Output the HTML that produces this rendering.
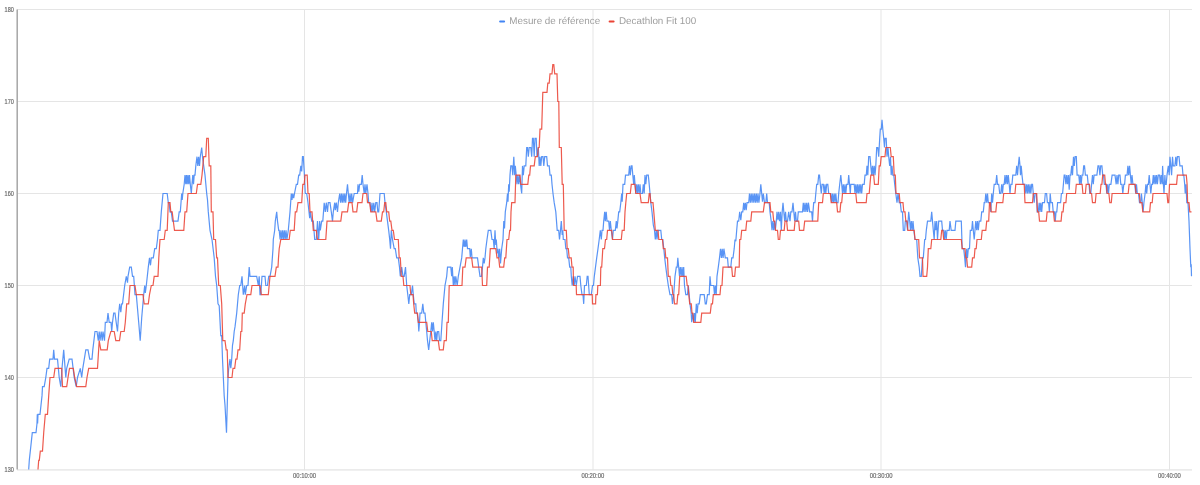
<!DOCTYPE html>
<html lang="fr"><head><meta charset="utf-8"><title>Mesure de référence / Decathlon Fit 100</title>
<style>
html,body{margin:0;padding:0;background:#fff}
svg{display:block}
.g line{stroke:#e5e5e5;stroke-width:1}
.ax{stroke:#a6a6a6;stroke-width:1.5}
.lab text{stroke:#777;stroke-width:0.22;font-family:"Liberation Sans",Arial,sans-serif;font-size:6px;fill:#6c6c6c}
.leg text{text-rendering:geometricPrecision;font-family:"Liberation Sans",Arial,sans-serif;font-size:9.85px;fill:#9e9e9e}
polyline{fill:none;stroke-width:1.2;stroke-opacity:0.88;stroke-linejoin:miter;stroke-miterlimit:2;stroke-linecap:butt}
</style></head><body>
<svg width="1200" height="485" viewBox="0 0 1200 485">
<defs><filter id="tb" x="-2%" y="-2%" width="104%" height="104%"><feGaussianBlur stdDeviation="0.28"/></filter></defs>
<rect width="1200" height="485" fill="#fff"/>
<g class="g"><line x1="17" x2="1192" y1="9.5" y2="9.5"/><line x1="17" x2="1192" y1="101.5" y2="101.5"/><line x1="17" x2="1192" y1="193.5" y2="193.5"/><line x1="17" x2="1192" y1="285.5" y2="285.5"/><line x1="17" x2="1192" y1="377.5" y2="377.5"/><line x1="17" x2="1192" y1="469.95" y2="469.95" style="stroke:#ebebeb;stroke-width:1.7"/><line x1="304.5" x2="304.5" y1="9.5" y2="470.2"/><line x1="593.0" x2="593.0" y1="9.5" y2="470.2"/><line x1="881.0" x2="881.0" y1="9.5" y2="470.2"/><line x1="1169.5" x2="1169.5" y1="9.5" y2="470.2"/></g>
<line class="ax" x1="17.2" x2="17.2" y1="9.5" y2="469.5"/>
<polyline stroke="#4285f4" points="28.7,469.5 29.3,460.3 30.3,451.1 31.3,441.9 32.3,432.7 36.0,432.7 37.0,423.5 37.3,414.3 37.6,423.5 38.0,414.3 40.0,414.3 41.0,405.1 42.0,395.9 42.5,386.7 44.2,386.7 45.8,377.5 47.0,368.3 48.7,368.3 49.7,359.1 53.0,359.1 53.7,349.9 54.5,359.1 57.5,359.1 59.2,377.5 60.8,386.7 62.0,368.3 63.7,349.9 65.8,377.5 66.7,368.3 69.2,359.1 72.0,359.1 74.2,377.5 76.2,386.7 77.5,377.5 80.3,368.3 81.7,377.5 82.8,368.3 85.8,349.9 88.0,349.9 89.7,359.1 92.0,359.1 92.8,349.9 95.0,331.5 97.0,331.5 98.3,340.7 99.2,331.5 100.0,340.7 101.2,331.5 102.2,340.7 103.0,331.5 104.5,340.7 105.3,322.3 107.0,322.3 108.0,313.1 109.2,322.3 111.0,322.3 111.7,331.5 112.5,322.3 113.7,313.1 115.0,313.1 116.2,322.3 117.5,331.5 118.7,313.1 119.7,303.9 120.8,312.2 121.7,303.9 122.5,303.9 124.7,285.5 126.3,276.3 127.5,282.7 128.0,276.3 129.7,267.1 131.3,267.1 132.5,276.3 133.7,276.3 135.0,294.7 136.3,294.7 138.7,322.3 140.2,340.7 141.7,317.7 143.7,294.7 144.7,285.5 145.3,292.9 146.3,285.5 148.3,267.1 149.5,257.9 150.5,265.3 151.3,257.9 153.3,257.9 154.7,248.7 156.3,248.7 157.5,239.5 158.3,230.3 160.0,230.3 161.3,211.9 163.0,193.5 167.2,193.5 168.3,202.7 169.2,202.7 170.0,211.9 171.3,211.9 172.5,221.1 178.0,221.1 179.2,211.9 180.3,211.9 181.7,193.5 182.2,199.9 182.8,193.5 184.2,184.3 185.0,175.1 185.8,184.3 186.5,175.1 187.2,184.3 188.0,175.1 188.8,184.3 189.5,175.1 190.3,184.3 191.3,193.5 192.0,184.3 192.8,175.1 193.5,184.3 194.2,175.1 195.0,175.1 195.8,165.9 197.0,156.7 197.8,165.9 198.7,156.7 199.5,165.9 200.3,156.7 201.7,147.5 202.5,156.7 203.7,165.9 205.0,175.1 206.7,193.5 207.5,199.9 208.3,211.9 210.0,230.3 212.0,239.5 214.2,257.9 215.5,276.3 216.7,285.5 218.0,303.9 219.2,305.7 220.8,336.1 221.7,335.2 222.5,359.1 224.2,395.9 225.0,405.1 226.5,432.7 228.0,377.5 228.7,368.3 230.0,359.1 230.8,368.3 231.7,359.1 232.5,345.3 233.3,340.7 234.2,331.5 235.0,326.9 236.7,313.1 238.3,294.7 239.7,285.5 240.8,285.5 242.0,276.3 243.3,294.7 244.7,285.5 245.3,294.7 246.7,285.5 248.0,285.5 249.2,267.1 250.0,276.3 256.7,276.3 258.3,285.5 259.2,276.3 260.0,294.7 260.8,294.7 262.0,276.3 265.0,276.3 265.8,285.5 267.5,285.5 268.7,276.3 270.0,276.3 271.7,267.1 273.0,248.7 273.3,239.5 274.7,230.3 275.3,221.1 276.7,211.9 277.5,221.1 278.7,230.3 279.2,230.3 280.1,239.5 280.9,230.3 281.8,239.5 282.6,230.3 283.5,239.5 284.3,230.3 285.2,239.5 286.0,230.3 286.9,239.5 288.3,230.3 290.0,211.9 291.3,193.5 292.0,199.9 292.8,193.5 293.7,198.1 294.5,193.5 296.3,184.3 297.5,184.3 298.7,175.1 299.7,175.1 300.8,165.9 301.7,171.4 302.5,156.7 303.3,156.7 304.2,171.4 305.3,193.5 306.7,193.5 308.0,202.7 309.7,218.3 310.3,211.9 311.7,221.1 313.3,221.1 314.7,239.5 316.3,239.5 317.5,221.1 318.7,239.5 319.7,221.1 320.3,230.3 321.7,221.1 322.8,221.1 324.2,202.7 325.3,211.9 326.3,202.7 327.5,211.9 328.3,202.7 330.0,202.7 331.3,211.9 332.5,221.1 333.3,211.9 334.7,202.7 335.3,210.1 336.3,202.7 337.5,211.9 338.3,202.7 339.7,193.5 339.7,193.5 340.6,202.7 341.4,193.5 342.3,202.7 343.1,193.5 344.0,202.7 344.8,193.5 345.7,202.7 346.5,193.5 347.5,184.3 348.3,193.5 348.3,193.5 349.2,202.7 350.0,193.5 350.9,202.7 351.7,193.5 352.6,202.7 354.2,193.5 357.5,193.5 358.0,184.3 358.8,191.7 359.7,184.3 361.3,184.3 362.2,175.1 363.0,184.3 364.2,193.5 365.0,184.3 365.8,193.5 367.0,184.3 368.0,193.5 368.7,202.7 370.0,202.7 371.2,211.9 372.0,202.7 372.8,211.9 373.8,202.7 374.7,211.9 375.8,202.7 377.0,202.7 377.8,211.9 378.7,211.9 380.0,193.5 384.2,193.5 385.0,202.7 386.3,211.9 387.5,221.1 388.7,230.3 389.7,239.5 390.5,248.7 391.3,230.3 392.5,239.5 394.2,248.7 395.3,248.7 396.7,257.9 398.3,257.9 399.5,267.1 400.3,276.3 401.7,267.1 403.0,276.3 404.2,276.3 405.5,267.1 406.7,285.5 407.8,294.7 408.8,303.9 409.7,294.7 411.3,294.7 412.5,285.5 413.3,294.7 414.2,303.9 415.8,303.9 416.3,313.1 417.2,313.1 418.3,322.3 418.8,331.5 419.5,322.3 420.0,313.1 421.7,313.1 422.8,303.9 423.8,313.1 425.0,313.1 425.8,322.3 426.7,331.5 427.5,340.7 428.7,349.9 429.7,340.7 430.8,331.5 431.7,322.3 432.5,331.5 433.3,322.3 434.2,331.5 435.0,340.7 435.8,331.5 436.7,340.7 437.5,331.5 438.7,331.5 439.5,340.7 440.8,340.7 442.0,322.3 443.3,303.9 445.0,285.5 446.7,276.3 447.5,267.1 450.8,267.1 451.7,276.3 452.3,267.1 453.3,285.5 454.2,276.3 455.0,285.5 455.8,276.3 457.2,285.5 458.3,276.3 460.0,267.1 461.7,257.9 463.3,239.5 464.2,246.9 465.0,239.5 465.8,246.9 466.7,239.5 467.5,248.7 469.7,248.7 470.3,257.0 471.3,248.7 472.0,257.9 477.5,257.9 478.7,267.1 480.0,276.3 481.5,276.3 482.5,267.1 483.3,257.9 484.2,263.4 485.0,257.9 485.8,248.7 487.0,239.5 488.3,230.3 490.8,230.3 492.0,239.5 493.3,239.5 494.2,248.7 495.0,230.3 495.8,245.0 496.3,239.5 497.2,253.3 498.0,248.7 498.7,257.9 499.7,248.7 500.5,263.4 501.7,248.7 503.0,239.5 503.8,221.1 504.5,228.5 505.3,211.9 506.7,202.7 507.5,193.5 508.0,201.8 508.7,184.3 509.2,191.7 510.0,175.1 510.8,165.9 512.0,165.9 512.8,175.1 513.8,156.7 514.7,175.1 515.3,165.9 516.2,175.1 517.0,184.3 517.8,175.1 518.7,184.3 519.5,175.1 520.5,184.3 521.7,193.5 522.5,165.9 523.3,175.1 524.2,165.9 525.8,165.9 526.7,147.5 527.5,147.5 528.3,156.7 529.2,147.5 530.8,147.5 531.7,156.7 532.5,138.3 533.3,138.3 534.2,156.7 535.0,138.3 536.2,138.3 537.0,156.7 538.3,147.5 539.2,165.9 540.0,156.7 540.8,165.9 541.7,156.7 543.0,156.7 543.8,165.9 544.7,156.7 546.7,156.7 547.5,165.9 549.2,165.9 550.0,175.1 551.3,175.1 552.0,184.3 553.0,193.5 554.2,202.7 555.8,211.9 557.2,230.3 558.7,230.3 559.5,239.5 560.5,230.3 561.3,221.1 562.2,234.9 562.8,230.3 563.3,239.5 565.0,239.5 565.8,248.7 566.7,248.7 567.5,257.9 568.7,257.9 569.7,267.1 570.8,267.1 571.3,276.3 572.2,285.5 573.3,276.3 574.2,285.5 575.0,276.3 576.3,285.5 577.5,276.3 580.0,276.3 580.8,285.5 582.0,294.7 583.0,294.7 583.7,303.9 584.5,285.5 586.3,285.5 587.2,276.3 588.0,276.3 589.3,294.7 591.3,294.7 592.5,285.5 593.5,285.5 594.3,276.3 595.5,267.1 596.7,257.9 598.0,248.7 599.2,239.5 600.3,230.3 601.3,239.5 602.0,230.3 603.0,230.3 603.7,221.1 604.7,211.9 605.3,221.1 606.2,211.9 607.0,221.1 608.7,221.1 609.5,230.3 610.3,221.1 611.3,230.3 612.5,239.5 613.3,230.3 615.3,230.3 616.3,221.1 617.0,228.5 617.8,221.1 618.7,211.9 619.7,211.9 620.8,202.7 621.7,193.5 622.2,201.8 623.0,184.3 624.7,184.3 625.5,175.1 628.7,175.1 629.5,165.9 630.3,175.1 631.2,165.9 632.0,165.9 632.8,175.1 633.7,184.3 634.3,175.1 635.0,184.3 635.8,193.5 636.7,184.3 637.5,193.5 638.3,184.3 639.2,193.5 640.0,184.3 640.8,193.5 642.5,193.5 643.3,184.3 644.2,193.5 645.0,175.1 645.8,184.3 646.7,175.1 648.3,175.1 649.2,184.3 650.0,193.5 650.8,202.7 652.0,211.9 653.3,224.8 654.5,230.3 655.3,239.5 656.3,230.3 657.0,239.5 658.0,230.3 660.8,230.3 661.7,239.5 662.8,239.5 663.8,248.7 664.7,257.9 665.8,267.1 667.0,276.3 668.3,285.5 670.0,294.7 671.7,294.7 672.5,303.9 673.7,294.7 675.0,276.3 676.3,267.1 677.2,267.1 677.8,257.9 678.7,267.1 679.5,276.3 680.3,267.1 681.2,276.3 682.0,267.1 682.8,276.3 683.7,267.1 684.5,285.5 685.8,294.7 687.5,294.7 688.3,285.5 689.2,294.7 690.0,303.9 691.2,313.1 691.7,322.3 692.8,313.1 693.7,322.3 694.5,313.1 695.3,322.3 696.3,303.9 697.2,313.1 698.0,303.9 699.2,303.9 700.3,294.7 704.2,294.7 705.3,303.9 706.3,303.9 707.5,294.7 709.2,294.7 710.0,276.3 710.8,285.5 713.7,285.5 714.5,294.7 715.3,285.5 716.2,294.7 717.0,276.3 718.3,267.1 719.5,257.9 720.5,248.7 720.5,248.7 721.4,257.9 722.2,248.7 723.1,257.9 723.9,248.7 725.3,257.9 727.5,257.9 728.3,267.1 730.8,267.1 731.7,257.9 733.0,257.9 734.2,248.7 735.0,239.5 735.8,241.3 736.7,230.3 737.5,221.1 738.7,221.1 739.7,211.9 740.8,220.2 741.7,211.9 742.8,211.9 743.7,202.7 744.5,210.1 745.3,202.7 746.2,210.1 747.0,202.7 748.7,202.7 749.5,193.5 749.5,193.5 750.4,202.7 751.2,193.5 752.1,202.7 752.9,193.5 753.8,202.7 754.6,193.5 755.5,202.7 756.3,193.5 757.2,202.7 758.0,193.5 758.9,202.7 760.0,193.5 760.8,184.3 761.7,193.5 762.5,201.8 763.3,193.5 764.5,202.7 765.8,202.7 766.7,193.5 767.5,202.7 769.2,202.7 770.0,211.9 771.2,221.1 772.0,230.3 772.8,221.1 773.7,230.3 774.5,221.1 775.3,230.3 776.3,221.1 777.0,211.9 778.0,220.2 778.7,211.9 779.7,221.1 780.5,211.9 781.3,230.3 782.2,211.9 783.0,202.7 783.8,211.9 784.7,221.1 785.5,211.9 786.3,221.1 787.5,221.1 788.7,211.9 790.0,221.1 790.8,211.9 792.0,211.9 793.0,202.7 793.8,211.9 794.7,221.1 795.5,211.9 796.3,221.1 797.5,221.1 798.3,211.9 802.5,211.9 803.3,202.7 803.3,202.7 804.1,211.9 805.0,202.7 805.9,211.9 806.7,202.7 807.6,211.9 808.4,202.7 809.7,211.9 811.7,211.9 812.5,221.1 813.0,211.9 813.7,202.7 815.0,202.7 815.8,193.5 816.7,184.3 817.8,184.3 818.7,175.1 819.5,175.1 820.3,184.3 821.3,193.5 822.0,184.3 823.3,184.3 824.2,193.5 825.0,184.3 825.8,193.5 826.7,184.3 827.8,184.3 828.7,193.5 830.8,193.5 831.7,202.7 832.5,193.5 833.3,202.7 834.2,193.5 835.0,202.7 835.8,193.5 836.7,202.7 838.0,202.7 838.7,193.5 839.7,184.3 840.8,175.1 841.7,184.3 842.5,193.5 843.3,184.3 844.2,193.5 845.0,184.3 845.8,193.5 846.7,184.3 848.0,184.3 848.7,175.1 849.5,184.3 850.3,193.5 850.8,184.3 854.2,184.3 855.0,193.5 855.8,184.3 856.7,193.5 857.5,184.3 858.3,193.5 859.2,184.3 860.0,193.5 860.8,184.3 861.7,193.5 862.5,184.3 864.2,184.3 865.0,175.1 866.3,175.1 867.0,165.9 867.8,175.1 868.7,156.7 870.0,156.7 870.8,165.9 871.7,175.1 872.5,165.9 873.3,175.1 874.2,165.9 875.0,175.1 875.8,165.9 876.7,147.5 877.8,147.5 878.7,156.7 879.7,138.3 880.3,129.1 881.3,129.1 882.0,119.9 882.8,129.1 883.7,138.3 884.5,147.5 885.0,138.3 886.2,138.3 887.0,156.7 888.0,147.5 888.7,156.7 889.7,165.9 890.5,156.7 891.2,175.1 892.0,165.9 892.8,175.1 893.8,175.1 894.7,184.3 895.8,193.5 897.0,202.7 898.0,193.5 899.2,202.7 900.3,202.7 901.3,211.9 902.5,211.9 903.3,230.3 904.7,230.3 905.3,221.1 906.7,221.1 907.5,230.3 908.7,211.9 909.7,221.1 910.5,230.3 911.3,221.1 912.2,230.3 913.0,221.1 913.8,230.3 915.0,239.5 916.7,239.5 917.8,257.9 919.2,267.1 920.0,276.3 921.3,276.3 922.5,257.9 923.3,257.9 924.7,239.5 925.5,239.5 926.3,230.3 927.5,221.1 930.8,221.1 931.7,211.9 932.5,221.1 933.3,230.3 934.2,239.5 935.0,221.1 935.8,230.3 936.7,221.1 937.5,239.5 938.7,221.1 941.7,221.1 942.5,230.3 943.7,230.3 944.5,239.5 945.3,230.3 946.2,239.5 947.0,230.3 949.2,230.3 950.0,221.1 951.2,230.3 955.0,230.3 955.8,221.1 961.3,221.1 962.2,248.7 963.7,248.7 964.7,257.9 965.5,267.1 966.7,248.7 967.5,257.9 968.3,248.7 969.5,248.7 970.3,230.3 971.7,230.3 972.5,221.1 973.3,230.3 974.2,239.5 975.0,230.3 975.8,221.1 976.7,230.3 977.5,221.1 978.3,230.3 979.2,221.1 980.8,221.1 981.7,211.9 983.3,211.9 984.2,202.7 985.0,202.7 985.8,193.5 986.7,202.7 987.5,193.5 988.3,202.7 990.0,202.7 990.8,211.9 991.7,193.5 992.5,202.7 993.3,193.5 994.2,184.3 995.8,184.3 996.7,175.1 997.5,184.3 998.7,184.3 999.7,193.5 1000.8,193.5 1001.7,184.3 1002.5,193.5 1003.3,184.3 1004.2,184.3 1005.0,175.1 1005.8,184.3 1006.7,175.1 1007.5,184.3 1008.3,175.1 1009.2,184.3 1010.0,193.5 1010.8,184.3 1012.0,184.3 1012.8,175.1 1015.8,175.1 1016.7,165.9 1017.5,175.1 1018.3,165.9 1019.2,156.7 1020.0,165.9 1020.5,175.1 1021.2,165.9 1022.0,175.1 1023.0,184.3 1025.0,184.3 1025.8,193.5 1026.7,184.3 1027.5,193.5 1028.3,184.3 1029.2,193.5 1030.0,184.3 1030.8,193.5 1031.7,184.3 1032.5,184.3 1033.3,193.5 1034.2,202.7 1035.0,193.5 1036.3,193.5 1037.2,211.9 1038.3,211.9 1039.2,202.7 1040.0,211.9 1040.8,202.7 1041.7,211.9 1042.5,202.7 1043.3,202.7 1044.5,202.7 1045.3,193.5 1046.6,193.5 1047.4,202.7 1048.6,202.7 1049.4,211.9 1050.2,193.5 1051.0,202.7 1052.4,202.7 1053.2,211.9 1054.5,211.9 1055.3,221.1 1056.0,211.9 1056.8,211.9 1057.6,202.7 1060.6,202.7 1061.4,193.5 1062.6,193.5 1063.4,184.3 1064.2,175.1 1065.0,175.1 1065.9,184.3 1066.7,175.1 1067.5,184.3 1068.4,175.1 1069.2,189.8 1070.0,175.1 1070.8,175.1 1071.7,165.9 1072.5,175.1 1073.5,156.7 1074.3,165.9 1075.1,156.7 1076.3,156.7 1077.1,175.1 1078.8,175.1 1079.6,184.3 1080.4,175.1 1081.2,184.3 1082.0,175.1 1082.9,175.1 1083.7,165.9 1084.5,165.9 1085.4,175.1 1087.3,175.1 1088.2,184.3 1089.0,184.3 1089.8,193.5 1090.8,193.5 1091.6,184.3 1092.5,175.1 1093.3,184.3 1094.1,175.1 1096.9,175.1 1098.0,165.9 1099.0,165.9 1099.9,175.1 1100.7,165.9 1101.9,165.9 1102.7,175.1 1103.5,175.1 1104.3,184.3 1106.0,184.3 1106.8,193.5 1107.6,184.3 1108.5,193.5 1109.3,184.3 1110.9,184.3 1112.1,175.1 1115.0,175.1 1116.2,184.3 1117.0,175.1 1117.9,184.3 1118.7,175.1 1120.0,175.1 1120.8,184.3 1122.0,184.3 1122.8,193.5 1123.8,184.3 1124.6,184.3 1125.4,175.1 1127.1,175.1 1127.9,165.9 1128.7,175.1 1129.6,165.9 1130.4,175.1 1131.2,184.3 1132.0,175.1 1132.9,184.3 1134.8,184.3 1135.7,193.5 1136.5,184.3 1137.3,193.5 1138.5,193.5 1139.5,202.7 1140.6,202.7 1141.4,193.5 1142.3,202.7 1143.1,211.9 1143.9,202.7 1145.1,193.5 1145.9,184.3 1146.7,193.5 1147.5,184.3 1148.4,184.3 1149.2,175.1 1150.0,184.3 1150.8,193.5 1151.7,184.3 1152.5,184.3 1153.3,175.1 1154.1,184.3 1155.0,175.1 1155.8,184.3 1156.6,175.1 1157.4,184.3 1158.3,175.1 1159.6,175.1 1160.4,184.3 1161.2,175.1 1162.1,184.3 1162.6,165.9 1163.4,184.3 1164.0,193.5 1164.9,175.1 1165.4,184.3 1166.2,184.3 1167.0,175.1 1168.3,165.9 1169.2,175.1 1170.0,156.7 1170.8,165.9 1171.6,175.1 1172.5,156.7 1173.3,165.9 1174.9,165.9 1175.8,156.7 1176.6,165.9 1177.4,156.7 1179.0,156.7 1179.9,165.9 1182.2,165.9 1183.0,175.1 1183.8,175.1 1184.7,184.3 1185.2,193.5 1186.0,184.3 1186.8,202.7 1188.0,202.7 1189.0,221.1 1190.0,248.7 1190.8,267.1 1191.2,264.3 1191.5,276.3"/>
<polyline stroke="#ea4335" points="38.0,469.5 38.7,460.3 39.3,460.3 40.3,451.1 42.5,451.1 43.7,432.7 45.3,414.3 47.5,414.3 48.7,395.9 50.0,377.5 53.7,377.5 55.0,368.3 61.7,368.3 62.5,386.7 66.7,386.7 68.0,377.5 69.5,368.3 73.3,368.3 74.7,377.5 76.7,386.7 85.8,386.7 87.0,377.5 88.7,368.3 97.5,368.3 99.2,340.7 100.8,349.9 107.2,349.9 108.3,340.7 110.8,331.5 114.2,331.5 115.8,340.7 119.5,340.7 120.8,331.5 124.2,331.5 125.3,322.3 126.7,303.9 128.7,303.9 130.0,285.5 135.0,285.5 136.3,294.7 143.0,294.7 144.2,303.9 148.3,303.9 149.5,294.7 151.3,285.5 153.0,285.5 154.2,276.3 158.0,276.3 158.8,257.9 160.0,239.5 164.2,239.5 165.3,230.3 167.2,230.3 168.3,202.7 170.0,202.7 170.8,211.9 172.2,211.9 173.3,221.1 174.5,230.3 183.8,230.3 185.0,211.9 186.7,211.9 188.0,193.5 196.3,193.5 197.5,184.3 200.8,184.3 202.0,175.1 203.7,156.7 205.8,156.7 206.7,138.3 208.3,138.3 209.2,165.9 210.8,165.9 211.3,211.9 213.0,211.9 213.7,239.5 215.5,239.5 216.7,257.9 217.5,257.9 218.7,285.5 220.3,285.5 221.7,303.9 222.8,340.7 225.0,340.7 226.2,349.9 227.2,349.9 228.0,377.5 232.0,377.5 233.0,368.3 234.7,368.3 235.8,359.1 237.0,359.1 238.0,349.9 239.7,349.9 240.8,331.5 241.8,331.5 242.3,313.1 244.2,313.1 245.3,303.9 247.0,294.7 250.8,294.7 252.0,285.5 260.0,285.5 261.3,294.7 268.3,294.7 270.0,276.3 275.0,276.3 276.3,267.1 278.0,267.1 278.5,257.9 279.2,248.7 280.8,239.5 289.2,239.5 290.3,230.3 294.2,230.3 295.3,211.9 296.7,211.9 298.0,202.7 301.7,202.7 302.8,184.3 304.2,184.3 305.0,175.1 307.2,175.1 308.0,193.5 309.2,193.5 310.0,211.9 312.0,211.9 313.3,230.3 316.3,230.3 317.5,239.5 325.8,239.5 327.0,221.1 340.8,221.1 342.0,211.9 347.5,211.9 348.7,202.7 352.0,202.7 353.0,211.9 356.7,211.9 357.8,202.7 362.0,202.7 363.0,193.5 366.7,193.5 367.5,202.7 369.7,202.7 370.8,211.9 375.8,211.9 377.0,221.1 381.3,221.1 382.5,211.9 383.7,211.9 384.7,202.7 385.8,202.7 386.7,211.9 388.7,211.9 389.7,221.1 390.8,221.1 392.0,230.3 393.3,230.3 394.5,239.5 398.3,239.5 399.2,257.9 400.3,257.9 401.3,276.3 403.0,276.3 403.8,285.5 410.0,285.5 410.8,294.7 413.0,294.7 413.7,303.9 414.7,313.1 417.5,313.1 418.3,322.3 426.7,322.3 427.8,331.5 431.3,331.5 432.2,340.7 438.3,340.7 439.5,349.9 443.3,349.9 444.2,340.7 446.3,340.7 447.0,322.3 448.3,322.3 449.2,285.5 462.0,285.5 462.8,267.1 465.0,267.1 466.2,257.9 471.7,257.9 472.8,267.1 481.7,267.1 482.5,285.5 486.7,285.5 487.5,267.1 489.2,267.1 490.3,248.7 495.8,248.7 497.0,257.9 498.7,257.9 499.7,267.1 503.7,267.1 504.7,257.9 505.8,257.9 507.0,239.5 508.7,239.5 509.7,230.3 510.5,230.3 511.0,211.9 511.7,202.7 515.0,202.7 515.8,175.1 520.0,175.1 520.8,184.3 527.8,184.3 528.8,175.1 529.7,175.1 530.5,165.9 534.2,165.9 535.3,156.7 537.5,156.7 538.3,147.5 539.2,147.5 540.0,129.1 541.7,129.1 542.8,92.3 547.0,92.3 547.8,83.1 549.2,83.1 550.0,73.9 552.0,73.9 552.8,64.7 553.8,64.7 554.7,73.9 557.0,73.9 557.8,101.5 558.8,101.5 559.3,147.5 561.3,147.5 562.2,184.3 563.3,184.3 564.2,230.3 566.3,230.3 567.2,248.7 568.3,248.7 569.2,257.9 571.2,257.9 572.0,267.1 573.2,267.1 573.5,285.5 576.2,285.5 576.5,294.7 592.2,294.7 592.5,303.9 595.6,303.9 595.9,294.7 597.4,294.7 597.8,285.5 600.4,285.5 600.8,267.1 601.7,267.1 602.8,248.7 604.5,248.7 605.5,239.5 606.7,239.5 607.5,230.3 611.7,230.3 612.5,239.5 621.3,239.5 622.2,230.3 624.2,230.3 625.0,211.9 625.8,202.7 626.7,193.5 630.3,193.5 631.3,184.3 635.0,184.3 635.8,193.5 640.0,193.5 641.2,202.7 648.3,202.7 649.2,193.5 650.0,193.5 650.8,202.7 653.0,202.7 653.8,211.9 655.3,230.3 658.0,230.3 658.8,239.5 662.5,239.5 663.3,248.7 665.0,248.7 665.8,257.9 667.5,257.9 668.3,276.3 670.0,276.3 670.8,285.5 672.0,285.5 672.8,294.7 673.7,294.7 674.5,303.9 677.0,303.9 677.8,294.7 678.7,294.7 679.7,276.3 686.2,276.3 687.2,285.5 688.0,285.5 688.8,294.7 689.7,303.9 691.3,303.9 692.0,313.1 692.8,313.1 693.7,322.3 700.8,322.3 701.7,313.1 710.3,313.1 711.3,303.9 712.5,303.9 713.3,294.7 720.0,294.7 720.8,285.5 722.0,285.5 723.0,267.1 731.7,267.1 732.5,276.3 734.7,276.3 735.5,267.1 739.2,267.1 739.7,239.5 740.8,239.5 741.7,230.3 745.8,230.3 746.7,221.1 750.8,221.1 751.7,211.9 763.3,211.9 764.5,202.7 770.0,202.7 770.8,211.9 772.8,211.9 773.7,221.1 774.7,221.1 775.5,230.3 777.5,230.3 778.3,239.5 779.7,239.5 780.5,230.3 784.2,230.3 785.0,221.1 786.7,221.1 787.5,230.3 794.2,230.3 795.0,221.1 798.7,221.1 799.5,230.3 803.7,230.3 804.7,221.1 817.8,221.1 818.7,202.7 822.5,202.7 823.3,193.5 830.3,193.5 831.2,202.7 836.7,202.7 837.5,211.9 840.0,211.9 840.8,202.7 841.7,202.7 842.5,193.5 855.8,193.5 856.7,202.7 866.2,202.7 867.0,193.5 869.2,193.5 870.0,184.3 870.8,175.1 873.7,175.1 874.5,184.3 878.3,184.3 879.2,165.9 880.3,165.9 881.2,156.7 885.0,156.7 885.8,147.5 890.3,147.5 891.2,156.7 893.3,156.7 894.2,175.1 895.3,175.1 896.0,193.5 899.2,193.5 900.0,202.7 903.0,202.7 903.8,211.9 905.0,211.9 905.8,221.1 907.0,221.1 907.8,230.3 914.2,230.3 915.0,239.5 918.7,239.5 919.5,257.9 922.5,257.9 923.0,276.3 926.7,276.3 927.5,267.1 928.3,248.7 930.8,248.7 931.7,239.5 940.8,239.5 941.7,230.3 942.8,230.3 943.7,239.5 961.3,239.5 962.2,248.7 965.0,248.7 965.8,257.9 966.7,257.9 967.5,267.1 971.7,267.1 972.5,257.9 974.2,257.9 975.0,248.7 976.2,248.7 977.0,239.5 981.3,239.5 982.2,230.3 985.8,230.3 986.7,221.1 988.7,221.1 989.5,202.7 990.3,202.7 991.2,211.9 995.8,211.9 996.7,202.7 1002.8,202.7 1003.7,193.5 1015.0,193.5 1015.8,184.3 1024.2,184.3 1025.0,202.7 1032.5,202.7 1033.3,193.5 1036.7,193.5 1037.5,211.9 1038.7,211.9 1039.5,221.1 1046.3,221.1 1047.1,211.9 1053.5,211.9 1054.4,221.1 1061.1,221.1 1061.9,211.9 1063.1,211.9 1063.9,202.7 1065.9,202.7 1066.7,193.5 1075.5,193.5 1076.3,184.3 1082.1,184.3 1082.9,193.5 1085.4,193.5 1086.2,184.3 1089.5,184.3 1090.3,193.5 1091.6,193.5 1092.5,202.7 1095.3,202.7 1096.1,193.5 1100.2,193.5 1101.0,184.3 1101.9,184.3 1102.7,175.1 1104.7,175.1 1105.5,184.3 1106.3,184.3 1107.1,193.5 1108.9,193.5 1109.8,202.7 1111.3,202.7 1112.1,193.5 1128.2,193.5 1129.1,184.3 1135.2,184.3 1136.0,193.5 1139.3,193.5 1140.1,202.7 1141.9,202.7 1142.8,211.9 1149.7,211.9 1150.5,202.7 1152.2,202.7 1153.0,193.5 1167.0,193.5 1167.8,202.7 1168.7,202.7 1169.5,184.3 1176.6,184.3 1177.4,175.1 1186.3,175.1 1187.1,184.3 1187.6,202.7 1189.0,202.7 1189.8,211.9 1191.5,211.9"/>
<g class="lab" filter="url(#tb)"><text x="4.6" y="11.6" textLength="9.2" lengthAdjust="spacingAndGlyphs" style="font-size:6.8px;fill:#666">180</text><text x="4.6" y="103.6" textLength="9.2" lengthAdjust="spacingAndGlyphs" style="font-size:6.8px;fill:#666">170</text><text x="4.6" y="195.6" textLength="9.2" lengthAdjust="spacingAndGlyphs" style="font-size:6.8px;fill:#666">160</text><text x="4.6" y="287.6" textLength="9.2" lengthAdjust="spacingAndGlyphs" style="font-size:6.8px;fill:#666">150</text><text x="4.6" y="379.6" textLength="9.2" lengthAdjust="spacingAndGlyphs" style="font-size:6.8px;fill:#666">140</text><text x="4.6" y="471.6" textLength="9.2" lengthAdjust="spacingAndGlyphs" style="font-size:6.8px;fill:#666">130</text><text x="293.1" y="477.8" textLength="22.9" lengthAdjust="spacingAndGlyphs" style="font-size:6.8px">00:10:00</text><text x="581.4" y="477.8" textLength="22.9" lengthAdjust="spacingAndGlyphs" style="font-size:6.8px">00:20:00</text><text x="869.7" y="477.8" textLength="22.9" lengthAdjust="spacingAndGlyphs" style="font-size:6.8px">00:30:00</text><text x="1158.0" y="477.8" textLength="22.9" lengthAdjust="spacingAndGlyphs" style="font-size:6.8px">00:40:00</text></g>
<g class="leg" filter="url(#tb)">
<rect x="499.1" y="20.4" width="6" height="2.1" rx="1" fill="#4285f4"/>
<text x="509.3" y="24">Mesure de référence</text>
<rect x="608.6" y="20.4" width="6" height="2.1" rx="1" fill="#ea4335"/>
<text x="619" y="24">Decathlon Fit 100</text>
</g>
</svg>
</body></html>
